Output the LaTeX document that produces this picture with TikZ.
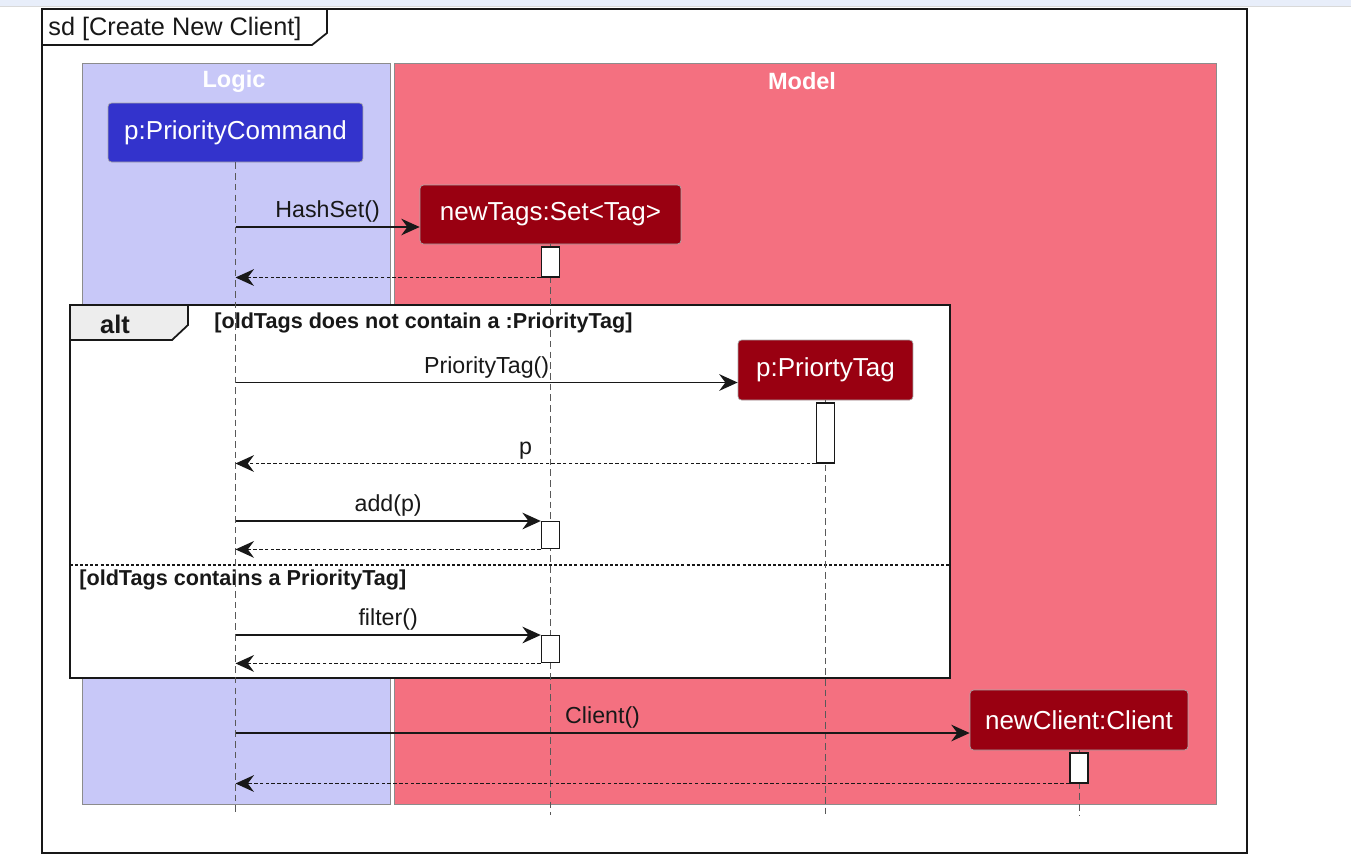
\documentclass[tikz,border=0pt]{standalone}
\usepackage{fontspec}
\setmainfont{Liberation Sans}
\usetikzlibrary{arrows.meta}
\definecolor{logicbg}{RGB}{200,200,248}
\definecolor{modelbg}{RGB}{244,112,128}
\definecolor{cmdblue}{RGB}{51,51,204}
\definecolor{tagred}{RGB}{153,0,17}
\definecolor{topband}{RGB}{232,238,250}
\definecolor{ink}{RGB}{24,24,24}
\tikzset{
  actor/.style={rounded corners=2pt, draw=black!35, text=white, inner sep=0pt, font=\fontsize{14.8}{17}\selectfont},
  lifeline/.style={dash pattern=on 3.8pt off 2.3pt, color=black!65, thin},
  call/.style={-{Stealth[length=10.5pt,width=9.5pt,inset=3.5pt]}, line width=0.9pt, color=ink},
  reply/.style={call, dash pattern=on 2pt off 1.3pt},
  msg/.style={font=\fontsize{13.2}{15}\selectfont, color=ink, above=1pt, inner sep=1pt},
  act/.style={draw=ink, fill=white, line width=0.8pt, minimum width=0.36cm, inner sep=0pt, anchor=north},
  boxtitle/.style={text=white, font=\bfseries\fontsize{13.4}{16}\selectfont},
  guard/.style={font=\bfseries\fontsize{12.3}{14}\selectfont, color=ink, anchor=west, inner sep=0pt},
}
\begin{document}
\begin{tikzpicture}[x=0.02cm, y=-0.02cm]
\useasboundingbox (0,0) rectangle (1351,867);
\fill[topband] (0,0) rectangle (1351,6);
\draw[black!15] (0,6) -- (1351,6);

% outer frame
\draw[line width=1.2pt, color=ink] (42,9) rectangle (1247,853);
\draw[line width=1pt, color=ink] (42,45) -- (312,45) -- (327,33) -- (327,9);
\node[anchor=west, inner sep=0pt, font=\fontsize{14.4}{17}\selectfont, color=ink] (title) at (48,29) {sd [Create New Client]};

% boxes
\draw[draw=black!45, fill=logicbg] (82,63) rectangle (390,804);
\draw[draw=black!45, fill=modelbg] (394,63) rectangle (1216,804);
\node[boxtitle] (logic) at (234,81) {Logic};
\node[boxtitle] (model) at (802,81) {Model};

% participants
\node[actor, fill=cmdblue, minimum width=5.1cm, minimum height=1.18cm] (cmd) at (235.5,132.5) {p:PriorityCommand};
\node[actor, fill=tagred, minimum width=5.22cm, minimum height=1.18cm] (tags) at (550.5,214.5) {newTags:Set<Tag>};
\coordinate (bottom) at (0,815);

% alt frame
\draw[line width=1.2pt, color=ink, fill=white] (70,305) rectangle (950,678);
\draw[line width=1pt, color=ink, fill=black!7] (70,305) -- (188,305) -- (188,325) -- (172,340) -- (70,340) -- cycle;
\node[font=\bfseries\fontsize{14.5}{17}\selectfont, color=ink] (alt) at (115,324) {alt};
\node[guard] (guardA) at (214,323) {[oldTags does not contain a :PriorityTag]};
\draw[color=ink, dash pattern=on 1.7pt off 1.2pt, line width=0.8pt] (70,565) -- (950,565);
\node[guard] (guardB) at (79,580) {[oldTags contains a PriorityTag]};

\node[actor, fill=tagred, minimum width=3.5cm, minimum height=1.2cm] (ptag) at (825.5,370) {p:PriortyTag};
\node[actor, fill=tagred, minimum width=4.36cm, minimum height=1.2cm] (client) at (1079,720) {newClient:Client};

% lifelines
\draw[lifeline] (cmd.south) -- (cmd.south |- bottom);
\draw[lifeline] (tags.south) -- (tags.south |- bottom);
\draw[lifeline] (ptag.south) -- (ptag.south |- bottom);
\draw[lifeline] (client.south) -- (client.south |- bottom);

% HashSet()
\coordinate (hashEnd) at ([yshift=-0.25cm]tags.west);
\draw[call] (cmd |- hashEnd) -- (hashEnd) node[msg, midway] {HashSet()};
\node[act, minimum height=0.6cm] (tagsA) at ([yshift=-1pt]tags.south) {};
\draw[reply] (tagsA.south west) -- (cmd |- tagsA.south west);

% PriorityTag()
\coordinate (ptagEnd) at ([yshift=-0.25cm]ptag.west);
\draw[call] (cmd |- ptagEnd) -- (ptagEnd) node[msg, midway] {PriorityTag()};
\node[act, minimum height=1.2cm] (ptagA) at ([yshift=-1pt]ptag.south) {};
\draw[reply] (ptagA.south west) -- (cmd |- ptagA.south west) node[msg, midway] {p};

% add(p)
\coordinate (addTop) at (550,521);
\node[act, minimum height=0.54cm] (addA) at (tags |- addTop) {};
\draw[call] (cmd |- addA.north west) -- (addA.north west) node[msg, midway] {add(p)};
\draw[reply] (addA.south west) -- (cmd |- addA.south west);

% filter()
\coordinate (filterTop) at (550,635);
\node[act, minimum height=0.54cm] (filterA) at (tags |- filterTop) {};
\draw[call] (cmd |- filterA.north west) -- (filterA.north west) node[msg, midway] {filter()};
\draw[reply] (filterA.south west) -- (cmd |- filterA.south west);

% Client()
\coordinate (clientEnd) at ([yshift=-0.26cm]client.west);
\draw[call] (cmd |- clientEnd) -- (clientEnd) node[msg, midway] {Client()};
\node[act, minimum height=0.6cm] (clientA) at ([yshift=-1pt]client.south) {};
\draw[reply] (clientA.south west) -- (cmd |- clientA.south west);
\end{tikzpicture}
\end{document}
